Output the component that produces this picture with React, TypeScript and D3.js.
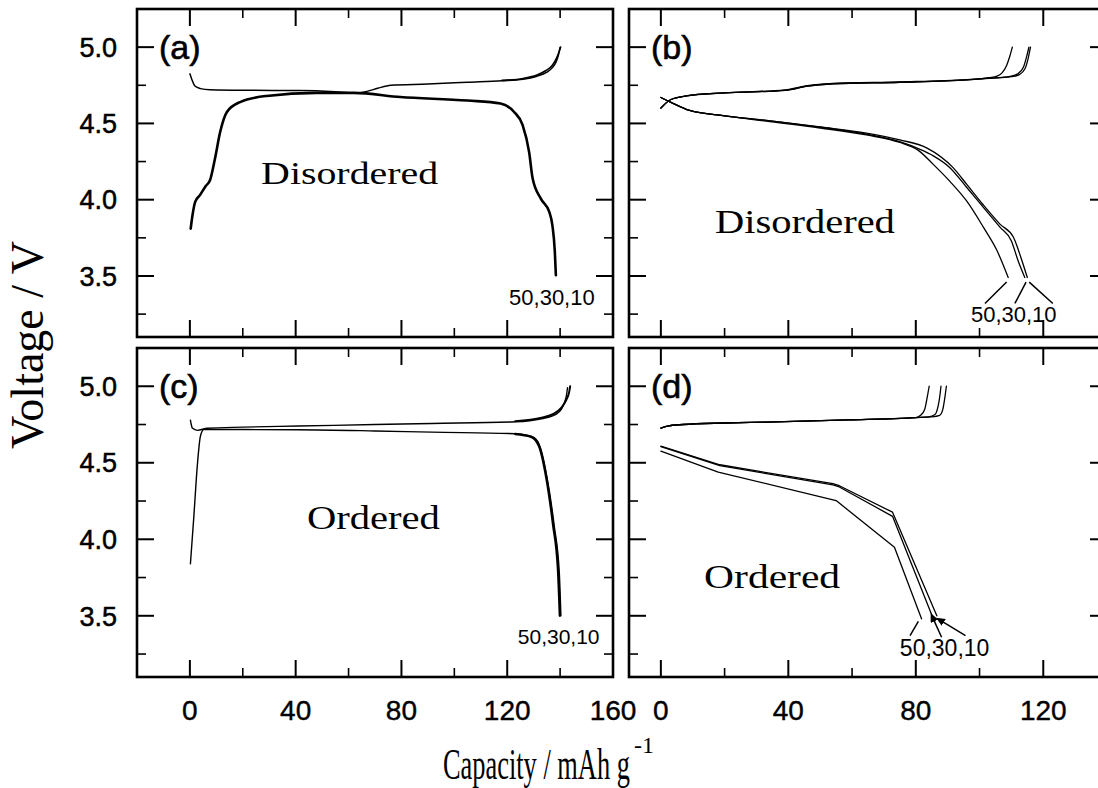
import React from 'react';
import * as d3 from 'd3';

type Pt = [number, number];

// ---------------- tick values / texts ----------------
const voltageMajorTicks = [3.5, 4.0, 4.5, 5.0];
const voltageMinorTicks = [3.25, 3.75, 4.25, 4.75];
const voltageTickLabels = ['3.5', '4.0', '4.5', '5.0'];
const capMajorWide = [0, 40, 80, 120, 160];
const capMinorWide = [20, 60, 100, 140];
const capLabelsWide = ['0', '40', '80', '120', '160'];
const capMajorNarrow = [0, 40, 80, 120];
const capMinorNarrow = [20, 60, 100];
const capLabelsNarrow = ['0', '40', '80', '120'];
const cycleLabel = '50,30,10';
const panelIds = ['(a)', '(b)', '(c)', '(d)'];
const phaseNames = ['Disordered', 'Disordered', 'Ordered', 'Ordered'];
const yTitle = 'Voltage / V';
const xTitleMain = 'Capacity / mAh g';
const xTitleSup = '-1';

// ---------------- (a) disordered, cycles 50/30/10 overlap ----------------
const aUpper: Pt[] = [[0, 4.825], [0.7, 4.79], [1.9, 4.745], [4, 4.728], [7.6, 4.72], [20, 4.717], [41.7, 4.716], [55, 4.708], [62, 4.70], [67, 4.71], [71, 4.73], [76, 4.75], [90, 4.758], [105, 4.77], [118, 4.78], [126, 4.79], [131, 4.808], [135, 4.836], [137, 4.865], [138.4, 4.9], [139.4, 4.95], [140, 5.0]];
const aUpperTail: Pt[] = [[118, 4.782], [126, 4.795], [131, 4.815], [134.5, 4.845], [137, 4.88], [138.7, 4.93], [139.6, 4.97], [140.2, 5.0]];
const aLower: Pt[] = [[0.3, 3.81], [1, 3.9], [2, 3.986], [3.8, 4.03], [6, 4.09], [7.6, 4.127], [9.5, 4.27], [11.4, 4.44], [14, 4.575], [19, 4.64], [29, 4.68], [48, 4.70], [62, 4.70], [79.6, 4.673], [105, 4.65], [117.5, 4.63], [122.6, 4.575], [125.8, 4.49], [128.3, 4.31], [129.6, 4.14], [132.7, 4.007], [135.9, 3.92], [137.1, 3.83], [138, 3.66], [138.4, 3.505]];

// ---------------- (b) disordered, separate cycles ----------------
const bCharge10: Pt[] = [[0, 4.6], [3, 4.655], [8, 4.68], [20, 4.7], [39, 4.717], [46, 4.745], [54, 4.76], [75, 4.77], [96, 4.785], [103, 4.795], [107, 4.8], [110, 4.806], [112.5, 4.82], [114.3, 4.86], [115.3, 4.93], [116, 5.0]];
const bCharge30: Pt[] = [[0, 4.6], [3, 4.655], [8, 4.68], [20, 4.7], [39, 4.72], [46, 4.748], [54, 4.762], [75, 4.772], [96, 4.787], [103, 4.797], [107, 4.802], [109.5, 4.808], [112, 4.825], [113.8, 4.87], [114.8, 4.94], [115.5, 5.0]];
const bCharge50: Pt[] = [[0, 4.6], [3, 4.655], [8, 4.68], [20, 4.7], [39, 4.717], [46, 4.745], [54, 4.76], [75, 4.77], [96, 4.785], [103, 4.8], [105.5, 4.81], [107, 4.83], [108.5, 4.88], [109.5, 4.94], [110.3, 5.0]];
const bDis10: Pt[] = [[0, 4.67], [3, 4.64], [9, 4.585], [20, 4.55], [33, 4.52], [50, 4.477], [64.5, 4.437], [75, 4.392], [83.4, 4.34], [91.7, 4.21], [96, 4.1], [101, 3.97], [106.4, 3.84], [110.6, 3.755], [113, 3.62], [115, 3.49]];
const bDis30: Pt[] = [[0, 4.67], [3, 4.64], [9, 4.585], [20, 4.55], [33, 4.52], [50, 4.475], [64.5, 4.43], [75, 4.38], [81.3, 4.33], [85.5, 4.287], [90.7, 4.21], [96, 4.08], [101.2, 3.95], [106.4, 3.82], [110, 3.73], [112.1, 3.6], [114.2, 3.49]];
const bDis50: Pt[] = [[0, 4.67], [3, 4.64], [9, 4.585], [20, 4.55], [33, 4.515], [50, 4.47], [64.5, 4.425], [75, 4.375], [81, 4.32], [85.4, 4.233], [90.7, 4.12], [96, 3.99], [101.2, 3.82], [105.4, 3.67], [109, 3.49]];

// ---------------- (c) ordered, cycles 50/30/10 overlap ----------------
const cUpper: Pt[] = [[0.2, 4.778], [0.5, 4.75], [1, 4.725], [2.8, 4.712], [6.6, 4.726], [20, 4.733], [41, 4.74], [70, 4.75], [91.5, 4.757], [123, 4.768], [133, 4.788], [138.4, 4.816], [140.5, 4.85], [141.6, 4.89], [142.4, 4.94], [142.8, 4.99]];
const cUpperTail: Pt[] = [[123, 4.772], [133, 4.795], [137.5, 4.82], [140.5, 4.86], [142.3, 4.91], [143.4, 4.96], [143.8, 5.0]];
const cLower: Pt[] = [[0.2, 3.84], [1.5, 4.15], [2.8, 4.48], [4, 4.675], [5.3, 4.717], [20, 4.717], [41, 4.716], [70, 4.708], [91.5, 4.7], [123, 4.69], [130, 4.665], [132.7, 4.59], [135.2, 4.39], [137.8, 4.085], [139.7, 3.78], [140.3, 3.5]];
const cLowerTail: Pt[] = [[123, 4.688], [129, 4.67], [132, 4.61], [134.6, 4.42], [137.3, 4.1], [139.2, 3.8], [139.9, 3.5]];

// ---------------- (d) ordered, separate cycles ----------------
const dCharge10: Pt[] = [[0, 4.727], [2, 4.74], [7, 4.75], [20, 4.76], [33, 4.766], [59, 4.78], [80, 4.795], [85, 4.8], [87.5, 4.81], [88.5, 4.85], [89, 4.91], [89.6, 5.0]];
const dCharge30: Pt[] = [[0, 4.727], [2, 4.74], [7, 4.75], [20, 4.76], [33, 4.766], [59, 4.78], [80, 4.795], [84, 4.8], [86, 4.815], [87, 4.87], [87.5, 4.93], [87.9, 5.0]];
const dCharge50: Pt[] = [[0, 4.727], [2, 4.74], [7, 4.75], [20, 4.76], [33, 4.766], [59, 4.78], [80, 4.795], [81.5, 4.81], [82.8, 4.85], [83.6, 4.93], [84.2, 5.0]];
const dDis10: Pt[] = [[0, 4.609], [18.5, 4.487], [54, 4.363], [56, 4.35], [72.7, 4.177], [86.6, 3.5]];
const dDis30: Pt[] = [[0, 4.605], [18.5, 4.481], [54, 4.356], [56, 4.342], [72.7, 4.15], [85.3, 3.49]];
const dDis50: Pt[] = [[0, 4.576], [18, 4.439], [55, 4.253], [73.3, 3.948], [81.8, 3.48]];

// ---------------- annotation leaders (capacity, voltage) ----------------
const bLeaders: Pt[][] = [[[108.5, 3.46], [101.7, 3.32]], [[114.6, 3.46], [111.1, 3.32]], [[115.6, 3.46], [123, 3.32]]];
const dLeaders: Pt[][] = [[[80.8, 3.463], [78.2, 3.37]], [[85.7, 3.47], [88.1, 3.36]], [[88.5, 3.46], [95.6, 3.37]]];
const dLeaderArrow = [false, true, true];

// ---------------- layout ----------------
const W = 1098;
const H = 788;
const V_DOMAIN: [number, number] = [3.1, 5.25];
const SANS = "'Liberation Sans', Arial, sans-serif";
const SERIF = "'Liberation Serif', 'Times New Roman', serif";

type Series = { data: Pt[]; width: number; smooth: boolean };
type PanelCfg = {
  left: number; right: number; top: number; bottom: number;
  xDomain: [number, number];
  xMajor: number[]; xMinor: number[]; xLabels: string[] | null;
  yLabels: boolean;
  id: string; phase: string; phasePos: Pt; phaseLen: number; phaseSize: number;
  note: Pt; noteSize: number;
  leaders: Pt[][]; arrows: boolean[];
  series: Series[];
};

const panels: PanelCfg[] = [
  {
    left: 137, right: 613, top: 9, bottom: 337, xDomain: [-20, 160],
    xMajor: capMajorWide, xMinor: capMinorWide, xLabels: null, yLabels: true,
    id: panelIds[0], phase: phaseNames[0], phasePos: [60.4, 4.1], phaseLen: 177, phaseSize: 32,
    note: [120.7, 3.31], noteSize: 22, leaders: [], arrows: [],
    series: [
      { data: aUpper, width: 1.5, smooth: true },
      { data: aUpperTail, width: 1.6, smooth: true },
      { data: aLower, width: 2.6, smooth: true },
    ],
  },
  {
    left: 629, right: 1107, top: 9, bottom: 337, xDomain: [-10, 140],
    xMajor: capMajorNarrow, xMinor: capMinorNarrow, xLabels: null, yLabels: false,
    id: panelIds[1], phase: phaseNames[1], phasePos: [45.2, 3.782], phaseLen: 180, phaseSize: 33,
    note: [97.3, 3.198], noteSize: 22, leaders: bLeaders, arrows: [false, false, false],
    series: [
      { data: bCharge10, width: 1.3, smooth: true },
      { data: bCharge30, width: 1.3, smooth: true },
      { data: bCharge50, width: 1.3, smooth: true },
      { data: bDis10, width: 1.3, smooth: true },
      { data: bDis30, width: 1.3, smooth: true },
      { data: bDis50, width: 1.3, smooth: true },
    ],
  },
  {
    left: 137, right: 613, top: 348, bottom: 677, xDomain: [-20, 160],
    xMajor: capMajorWide, xMinor: capMinorWide, xLabels: capLabelsWide, yLabels: true,
    id: panelIds[2], phase: phaseNames[2], phasePos: [69.4, 4.07], phaseLen: 133, phaseSize: 33,
    note: [124, 3.316], noteSize: 21, leaders: [], arrows: [],
    series: [
      { data: cUpper, width: 1.4, smooth: true },
      { data: cUpperTail, width: 2.0, smooth: true },
      { data: cLower, width: 1.4, smooth: true },
      { data: cLowerTail, width: 2.4, smooth: true },
    ],
  },
  {
    left: 629, right: 1107, top: 348, bottom: 677, xDomain: [-10, 140],
    xMajor: capMajorNarrow, xMinor: capMinorNarrow, xLabels: capLabelsNarrow, yLabels: false,
    id: panelIds[3], phase: phaseNames[3], phasePos: [34.9, 3.683], phaseLen: 136, phaseSize: 33,
    note: [75, 3.238], noteSize: 23, leaders: dLeaders, arrows: dLeaderArrow,
    series: [
      { data: dCharge10, width: 1.3, smooth: true },
      { data: dCharge30, width: 1.3, smooth: true },
      { data: dCharge50, width: 1.3, smooth: true },
      { data: dDis10, width: 1.3, smooth: false },
      { data: dDis30, width: 1.3, smooth: false },
      { data: dDis50, width: 1.3, smooth: false },
    ],
  },
];

const MAJOR = 17;
const MINOR = 9;

function Panel({ cfg, idx }: { cfg: PanelCfg; idx: number }) {
  const x = d3.scaleLinear().domain(cfg.xDomain).range([cfg.left, cfg.right]);
  const y = d3.scaleLinear().domain(V_DOMAIN).range([cfg.bottom, cfg.top]);
  const clipId = `clip-${idx}`;
  return (
    <g>
      <defs>
        <clipPath id={clipId}>
          <rect x={cfg.left} y={cfg.top} width={cfg.right - cfg.left} height={cfg.bottom - cfg.top} />
        </clipPath>
      </defs>
      <g clipPath={`url(#${clipId})`}>
        {cfg.series.map((s, i) => {
          const gen = d3.line<Pt>()
            .x((d) => x(d[0]))
            .y((d) => y(d[1]))
            .curve(s.smooth ? d3.curveMonotoneX : d3.curveLinear);
          return (
            <path key={i} d={gen(s.data) || ''} fill="none" stroke="#000"
              strokeWidth={s.width} strokeLinejoin="round" strokeLinecap="round" />
          );
        })}
      </g>
      {cfg.xMajor.map((v) => (
        <g key={`xM${v}`}>
          <line x1={x(v)} x2={x(v)} y1={cfg.bottom} y2={cfg.bottom - MAJOR} stroke="#000" strokeWidth={2} />
          <line x1={x(v)} x2={x(v)} y1={cfg.top} y2={cfg.top + MAJOR} stroke="#000" strokeWidth={2} />
        </g>
      ))}
      {cfg.xMinor.map((v) => (
        <g key={`xm${v}`}>
          <line x1={x(v)} x2={x(v)} y1={cfg.bottom} y2={cfg.bottom - MINOR} stroke="#000" strokeWidth={1.6} />
          <line x1={x(v)} x2={x(v)} y1={cfg.top} y2={cfg.top + MINOR} stroke="#000" strokeWidth={1.6} />
        </g>
      ))}
      {voltageMajorTicks.map((v) => (
        <g key={`yM${v}`}>
          <line x1={cfg.left} x2={cfg.left + MAJOR} y1={y(v)} y2={y(v)} stroke="#000" strokeWidth={2} />
          <line x1={cfg.right} x2={cfg.right - MAJOR} y1={y(v)} y2={y(v)} stroke="#000" strokeWidth={2} />
        </g>
      ))}
      {voltageMinorTicks.map((v) => (
        <g key={`ym${v}`}>
          <line x1={cfg.left} x2={cfg.left + MINOR} y1={y(v)} y2={y(v)} stroke="#000" strokeWidth={1.6} />
          <line x1={cfg.right} x2={cfg.right - MINOR} y1={y(v)} y2={y(v)} stroke="#000" strokeWidth={1.6} />
        </g>
      ))}
      <rect x={cfg.left} y={cfg.top} width={cfg.right - cfg.left} height={cfg.bottom - cfg.top}
        fill="none" stroke="#000" strokeWidth={2.6} />
      {cfg.yLabels && voltageMajorTicks.map((v, i) => (
        <text key={`yl${v}`} x={cfg.left - 20} y={y(v)} dy="0.36em" textAnchor="end"
          fontFamily={SANS} fontSize={27} fill="#000" stroke="#000" strokeWidth={0.5}>{voltageTickLabels[i]}</text>
      ))}
      {cfg.xLabels && cfg.xMajor.map((v, i) => (
        <text key={`xl${v}`} x={x(v)} y={720} textAnchor="middle"
          fontFamily={SANS} fontSize={28} fill="#000" stroke="#000" strokeWidth={0.4}>{cfg.xLabels![i]}</text>
      ))}
      <text x={cfg.left + 22} y={cfg.top + 50} fontFamily={SANS} fontSize={34} fill="#000"
        stroke="#000" strokeWidth={0.6}>{cfg.id}</text>
      <text x={x(cfg.phasePos[0])} y={y(cfg.phasePos[1])} textAnchor="middle"
        fontFamily={SERIF} fontSize={cfg.phaseSize} fill="#000"
        textLength={cfg.phaseLen} lengthAdjust="spacingAndGlyphs">{cfg.phase}</text>
      <text x={x(cfg.note[0])} y={y(cfg.note[1])} fontFamily={SANS} fontSize={cfg.noteSize} fill="#000">{cycleLabel}</text>
      {cfg.leaders.map((l, i) => (
        <line key={`ld${i}`} x1={x(l[0][0])} y1={y(l[0][1])} x2={x(l[1][0])} y2={y(l[1][1])}
          stroke="#000" strokeWidth={1.5}
          markerStart={cfg.arrows[i] ? 'url(#arrowHead)' : undefined} />
      ))}
    </g>
  );
}

export default function App() {
  return (
    <svg width={W} height={H} viewBox={`0 0 ${W} ${H}`}
      style={{ position: 'absolute', left: 0, top: 0, background: '#fff' }}>
      <defs>
        <marker id="arrowHead" markerUnits="userSpaceOnUse" markerWidth={9} markerHeight={8}
          refX={1} refY={4} orient="auto-start-reverse">
          <path d="M0,0 L9,4 L0,8 z" fill="#000" />
        </marker>
      </defs>
      <rect x={0} y={0} width={W} height={H} fill="#fff" />
      {panels.map((p, i) => <Panel key={i} cfg={p} idx={i} />)}
      <text transform="translate(43,345) rotate(-90)" textAnchor="middle"
        fontFamily={SERIF} fontSize={46} fill="#000">{yTitle}</text>
      <text transform="translate(443,779) scale(0.6,1)" fontFamily={SERIF} fontSize={44} fill="#000">{xTitleMain}</text>
      <text x={634} y={753} fontFamily={SERIF} fontSize={24} fill="#000">{xTitleSup}</text>
    </svg>
  );
}
